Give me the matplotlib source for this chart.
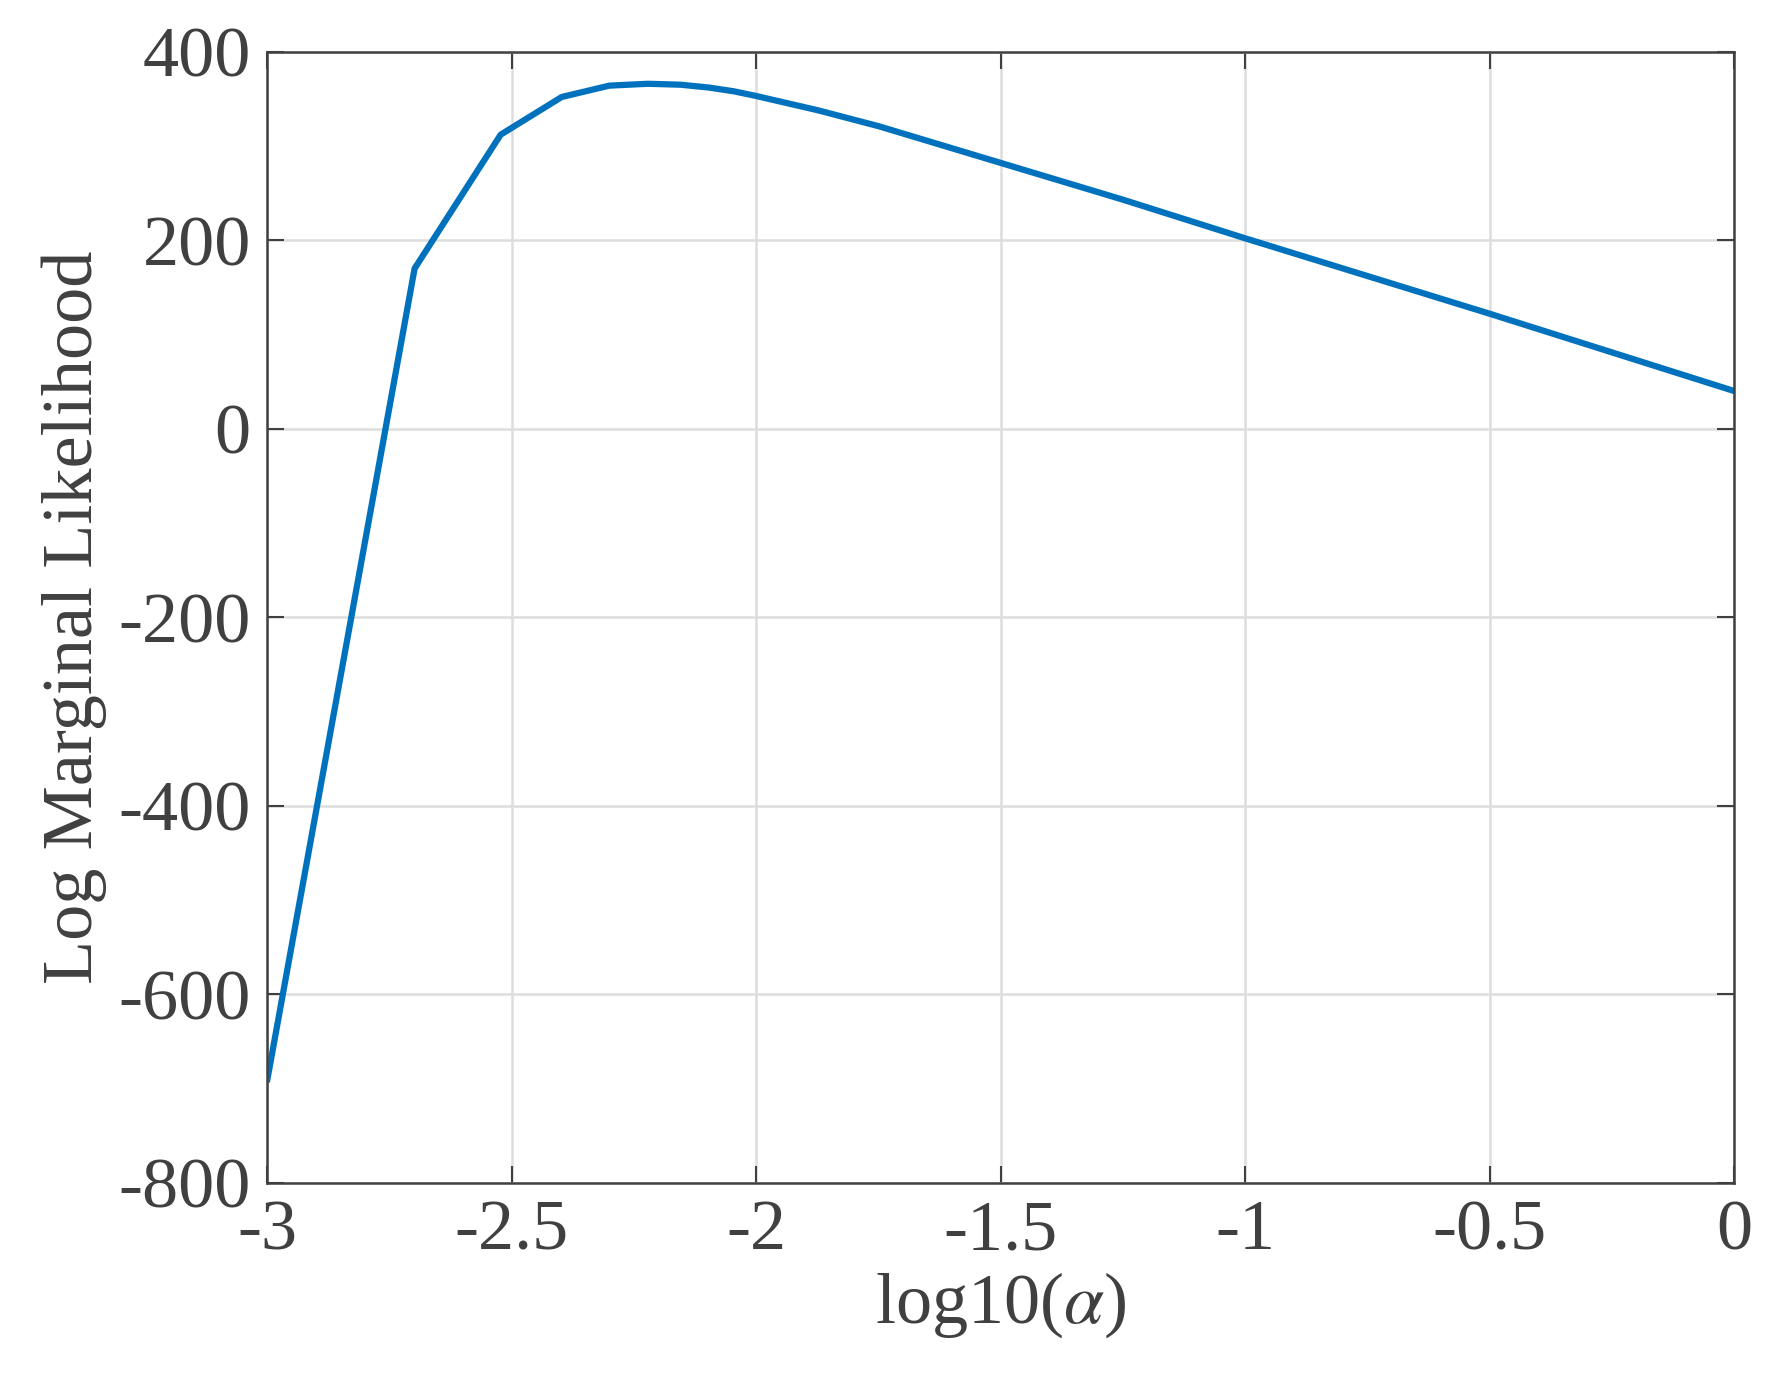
import numpy as np
import matplotlib.pyplot as plt

plt.rcParams["font.family"] = ["Liberation Serif", "DejaVu Serif"]
plt.rcParams["mathtext.fontset"] = "stix"

# alpha values (log10) and log marginal likelihood
LOG_ALPHA = [-3.0, -2.699, -2.523, -2.398, -2.301, -2.222, -2.155, -2.097, -2.046,
             -2.0, -1.875, -1.75, -1.5, -1.25, -1.0, -0.75, -0.5, -0.25, 0.0]
LML = [-690, 170, 312, 352, 364, 366, 365, 362, 358,
       353, 338, 321, 282, 243, 202, 162, 122, 81, 40]

TEXT = "#404040"

fig = plt.figure(figsize=(17.83, 13.98), dpi=100)
ax = fig.add_axes([0.15, 0.154, 0.8226, 0.809])
ax.plot(LOG_ALPHA, LML, color="#0072BD", linewidth=4.5)

ax.set_xlim(-3, 0)
ax.set_ylim(-800, 400)
ax.set_xticks([-3, -2.5, -2, -1.5, -1, -0.5, 0])
ax.set_xticklabels(["-3", "-2.5", "-2", "-1.5", "-1", "-0.5", "0"])
ax.set_yticks(range(-800, 401, 200))
ax.set_yticklabels([str(v) for v in range(-800, 401, 200)])
ax.grid(True, color="#DDDDDD", linewidth=1.8)
ax.set_axisbelow(True)
ax.tick_params(direction="in", length=12, width=1.5, colors=TEXT,
               labelsize=52, top=True, right=True, pad=12)
for s in ax.spines.values():
    s.set_color(TEXT)
    s.set_linewidth(1.8)

ax.set_xlabel(r"log10($\alpha$)", fontsize=52, color=TEXT, labelpad=4)
ax.set_ylabel("Log Marginal Likelihood", fontsize=52, color=TEXT, labelpad=8)

fig.savefig("out.png", dpi=100, facecolor="white")
